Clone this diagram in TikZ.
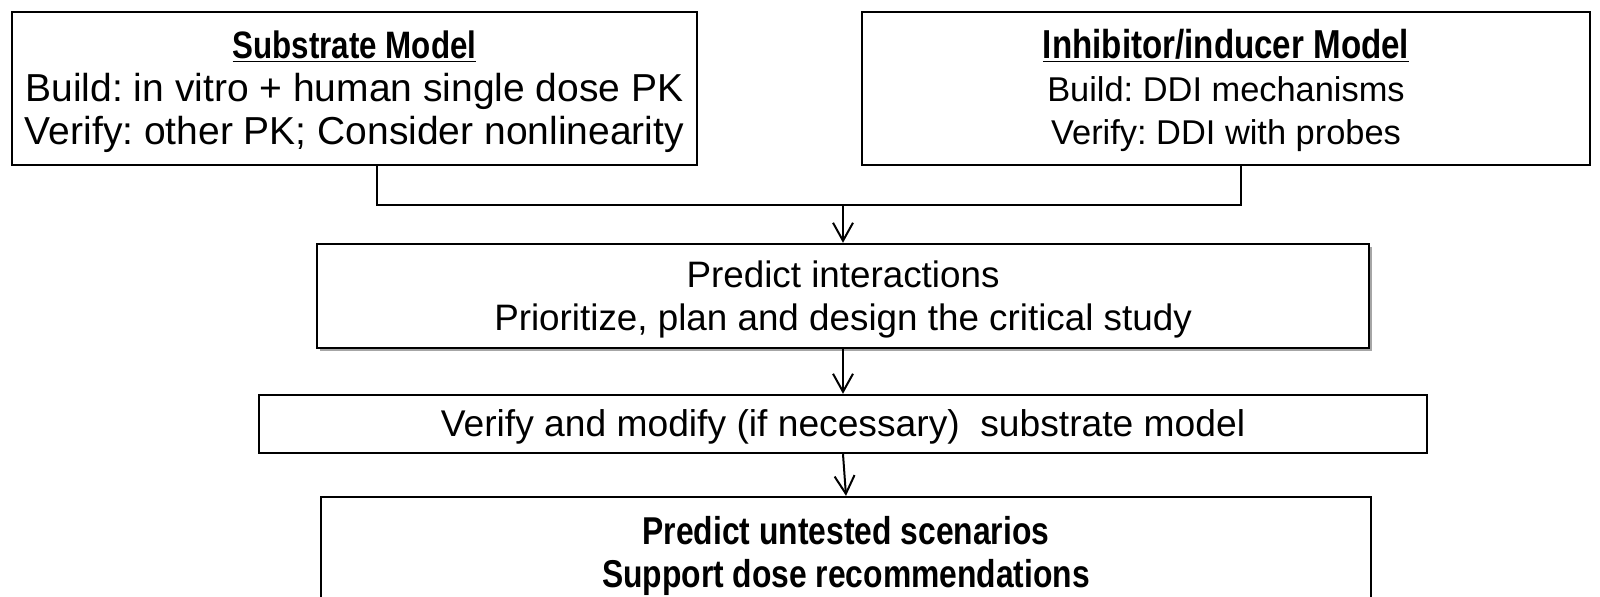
\documentclass[tikz,border=0pt]{standalone}
\usepackage{fontspec}
\setmainfont{Liberation Sans}[BoldFeatures={FakeStretch=0.82}]
\usetikzlibrary{arrows.meta,shadows}
\frenchspacing

% text lines of a box, sitting a little low
\newcommand{\boxlines}[1]{\raisebox{-2pt}[\height][\depth]{\begin{tabular}{@{}c@{}}#1\end{tabular}}}
\newcommand{\fsize}[1]{\fontsize{#1}{21.5}\selectfont}

\begin{document}
\begin{tikzpicture}[x=0.5pt,y=-0.5pt,
  box/.style={draw, line width=1.2pt, inner sep=0pt, fill=white, font=\fsize{18}},
  link/.style={line width=1pt},
  flow/.style={link, -{Straight Barb[length=9pt,width=10pt]}}]

\clip (0,0) rectangle (1600,596);

% models
\node[box, font=\fsize{19.5}, minimum width=342.5pt, minimum height=76.5pt] (substrate) at (354.5,88.5)
  {\boxlines{{\fsize{19.1}\textbf{\underline{Substrate Model}}}\\Build: in vitro + human single dose PK\\Verify: other PK; Consider nonlinearity}};
\node[box, font=\fsize{17.2}, minimum width=364pt, minimum height=76.5pt] (inducer) at (1226,88.5)
  {\boxlines{{\fsize{20.2}\textbf{\underline{Inhibitor/inducer Model}}}\\Build: DDI mechanisms\\Verify: DDI with probes}};

% steps
\node[box, font=\fsize{18.4}, minimum width=526pt, minimum height=52pt,
  drop shadow={shadow xshift=1.5pt, shadow yshift=-1.5pt, fill=gray!70, opacity=1}] (predict) at (843,296)
  {\boxlines{Predict interactions\\Prioritize, plan and design the critical study}};
\node[box, font=\fsize{18.6}, minimum width=584pt, minimum height=29pt] (verify) at (843,424)
  {\boxlines{Verify and modify (if necessary)\ \ substrate model}};
\node[box, font=\fsize{19.4}, minimum width=525pt, minimum height=56pt] (scenario) at (846,553)
  {\boxlines{\textbf{Predict untested scenarios}\\\textbf{Support dose recommendations}}};

\coordinate (lj) at (377,205);
\coordinate (rj) at (1241,205);
\coordinate (mj) at (843,205);

\draw[link] (substrate.south -| lj) -- (lj) -- (rj) -- (inducer.south -| rj);
\draw[flow] (mj) -- (predict.north -| mj);
\draw[flow] (predict.south -| mj) -- (verify.north -| mj);
\draw[flow] (verify.south -| mj) -- (scenario.north);

\end{tikzpicture}
\end{document}
